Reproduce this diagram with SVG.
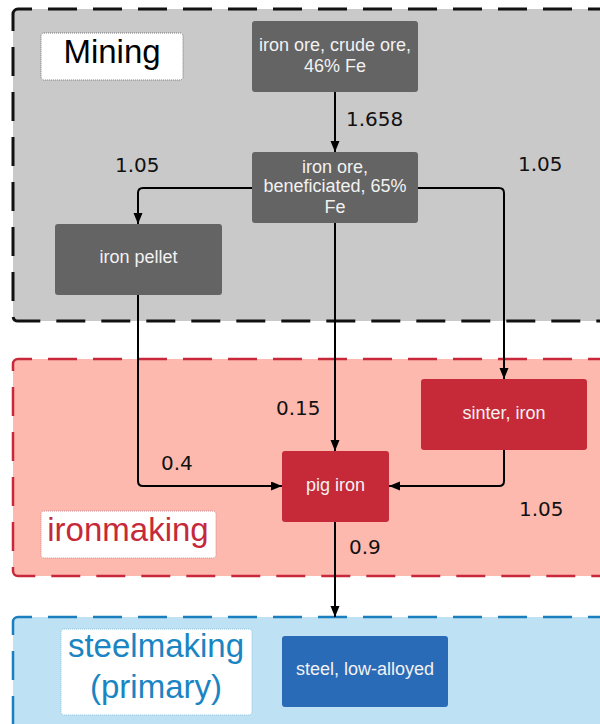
<svg xmlns="http://www.w3.org/2000/svg" width="600" height="724" viewBox="0 0 600 724">
  <style>
    .cluster { stroke-dasharray: 29 16; stroke-dashoffset: 15; }
    .mining { fill: #c9c9c9; stroke: #111111; stroke-width: 3; }
    .iron { fill: #fdb9ae; stroke: #c8283a; stroke-width: 2.5; }
    .steel { fill: #bee1f4; stroke: #1b7fbf; stroke-width: 2.5; }
    .tag { fill: #ffffff; stroke-width: 1; stroke-dasharray: 1 1; }
    .tagtext { font-family: "Liberation Sans", Arial, sans-serif; font-size: 33px; text-anchor: middle; }
    .node rect { stroke: none; }
    .gray rect { fill: #646464; }
    .red rect { fill: #c62a38; }
    .blue rect { fill: #2a6bb8; }
    .node text { font-family: "Liberation Sans", Arial, sans-serif; font-size: 18px; fill: #f2f2f2; text-anchor: middle; }
    .edge { fill: none; stroke: #000000; stroke-width: 2; }
    .qty { font-family: "DejaVu Sans", sans-serif; font-size: 20px; fill: #111111; }
  </style>
  <defs>
    <marker id="arrow" markerUnits="userSpaceOnUse" markerWidth="12" markerHeight="10" refX="11" refY="4.5" orient="auto">
      <path d="M0,0 L11,4.5 L0,9 Z" fill="#000000"/>
    </marker>
  </defs>

  <rect width="600" height="724" fill="#ffffff"/>

  <!-- process stages -->
  <g id="cluster-mining">
    <rect class="cluster mining" x="13" y="9" width="620" height="312" rx="5"/>
    <rect class="tag" x="41" y="33" width="142" height="47" rx="3" stroke="#777777"/>
    <text class="tagtext" x="112" y="63" fill="#000000">Mining</text>
  </g>
  <g id="cluster-ironmaking">
    <rect class="cluster iron" x="13" y="359" width="620" height="217" rx="5"/>
    <rect class="tag" x="41" y="511" width="175" height="47" rx="3" stroke="#d88890"/>
    <text class="tagtext" x="128" y="541" fill="#c62a3a">ironmaking</text>
  </g>
  <g id="cluster-steelmaking">
    <rect class="cluster steel" x="13" y="617" width="620" height="130" rx="5"/>
    <rect class="tag" x="61" y="629" width="191" height="86" rx="3" stroke="#8ec0dc"/>
    <text class="tagtext" x="156" y="657" fill="#1a85c2">steelmaking</text>
    <text class="tagtext" x="156" y="698" fill="#1a85c2">(primary)</text>
  </g>

  <!-- material flows -->
  <g id="connectors">
    <path class="edge" d="M335,92 V152" marker-end="url(#arrow)"/>
    <path class="edge" d="M252,188 H143 Q138,188 138,193 V224" marker-end="url(#arrow)"/>
    <path class="edge" d="M418,188 H499 Q504,188 504,193 V379" marker-end="url(#arrow)"/>
    <path class="edge" d="M335,223 V451" marker-end="url(#arrow)"/>
    <path class="edge" d="M138,295 V481 Q138,486 143,486 H282" marker-end="url(#arrow)"/>
    <path class="edge" d="M504,450 V481 Q504,486 499,486 H389" marker-end="url(#arrow)"/>
    <path class="edge" d="M335,522 V617" marker-end="url(#arrow)"/>
    <text class="qty" x="346" y="126">1.658</text>
    <text class="qty" x="115" y="172">1.05</text>
    <text class="qty" x="518" y="171">1.05</text>
    <text class="qty" x="276" y="415">0.15</text>
    <text class="qty" x="161" y="470">0.4</text>
    <text class="qty" x="519" y="516">1.05</text>
    <text class="qty" x="349" y="554">0.9</text>
  </g>

  <!-- materials -->
  <g id="node-crude-ore" class="node gray">
    <rect x="252" y="21" width="166" height="71" rx="3"/>
    <text x="335" y="51">iron ore, crude ore,</text>
    <text x="335" y="72">46% Fe</text>
  </g>
  <g id="node-beneficiated-ore" class="node gray">
    <rect x="252" y="152" width="166" height="71" rx="3"/>
    <text x="335" y="173">iron ore,</text>
    <text x="335" y="192">beneficiated, 65%</text>
    <text x="335" y="213">Fe</text>
  </g>
  <g id="node-iron-pellet" class="node gray">
    <rect x="55" y="224" width="167" height="71" rx="3"/>
    <text x="138.5" y="263">iron pellet</text>
  </g>
  <g id="node-sinter" class="node red">
    <rect x="421" y="379" width="166" height="71" rx="3"/>
    <text x="504" y="419">sinter, iron</text>
  </g>
  <g id="node-pig-iron" class="node red">
    <rect x="282" y="451" width="107" height="71" rx="3"/>
    <text x="335.5" y="491">pig iron</text>
  </g>
  <g id="node-steel" class="node blue">
    <rect x="282" y="636" width="166" height="71" rx="3"/>
    <text x="365" y="675">steel, low-alloyed</text>
  </g>
</svg>
